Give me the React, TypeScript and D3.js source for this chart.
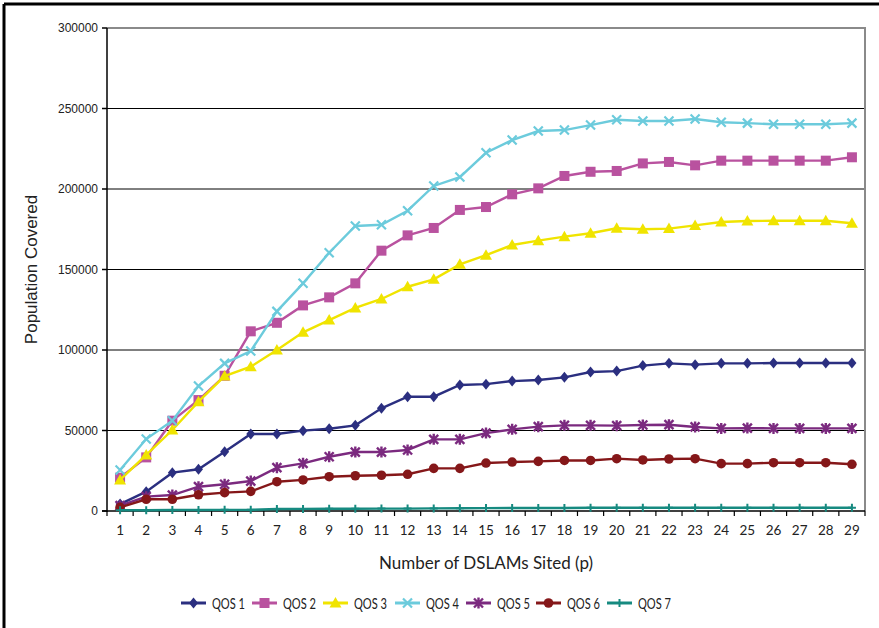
import React from "react";
import * as d3 from "d3";

const categories = Array.from({ length: 29 }, (_, i) => String(i + 1));
const yTicks = [0, 50000, 100000, 150000, 200000, 250000, 300000];

const qos1 = [4300, 12000, 23800, 25900, 36800, 47800, 47800, 49900, 51100, 53200, 63800, 71000, 71000, 78300, 78800, 80700, 81400, 83000, 86300, 86900, 90300, 91700, 90900, 91700, 91700, 91900, 91900, 91900, 91900];
const qos2 = [20700, 33300, 56100, 68900, 84000, 111600, 116900, 127700, 132700, 141400, 161700, 171200, 175800, 187000, 188800, 196700, 200400, 208100, 210700, 211200, 215900, 216800, 214700, 217600, 217600, 217600, 217600, 217600, 219700];
const qos3 = [19300, 34800, 50300, 67900, 83800, 89600, 100000, 111000, 118600, 126100, 131700, 139300, 143900, 153200, 158900, 165200, 167900, 170400, 172500, 175600, 175000, 175400, 177400, 179500, 180100, 180300, 180300, 180300, 178700];
const qos4 = [25500, 44700, 56100, 77600, 91700, 99400, 124000, 141400, 160400, 177000, 177800, 186500, 201900, 207400, 222500, 230400, 236000, 236600, 239700, 243000, 242200, 242200, 243500, 241500, 240900, 240200, 240200, 240200, 240900];
const qos5 = [3300, 8900, 9900, 15100, 16600, 18600, 26900, 29600, 33700, 36600, 36600, 37900, 44500, 44500, 48400, 50700, 52400, 53200, 53200, 53000, 53400, 53600, 52200, 51300, 51500, 51300, 51300, 51300, 51300];
const qos6 = [2300, 7300, 7300, 10100, 11400, 12200, 18200, 19300, 21300, 21900, 22200, 22800, 26500, 26500, 29800, 30400, 30800, 31400, 31400, 32500, 31700, 32300, 32500, 29400, 29400, 30000, 30000, 30000, 29000];
const qos7 = [500, 500, 600, 600, 700, 700, 1200, 1300, 1400, 1400, 1500, 1500, 1600, 1700, 1800, 1900, 1900, 1900, 2000, 2000, 2000, 2000, 2000, 2000, 2000, 2000, 2000, 2000, 2000];

const seriesNames = ["QOS 1", "QOS 2", "QOS 3", "QOS 4", "QOS 5", "QOS 6", "QOS 7"];
const seriesValues = [qos1, qos2, qos3, qos4, qos5, qos6, qos7];
const seriesColors = ["#2b2f80", "#b9529f", "#f0e400", "#6ccbdc", "#7b2a7f", "#851719", "#168a80"];
const seriesMarkers = ["diamond", "square", "triangle", "x", "star", "circle", "plus"];

const W = 879;
const H = 628;
const M = { left: 107, right: 865, top: 28, bottom: 511 };

function Marker({ type, x, y, color }: { type: string; x: number; y: number; color: string }) {
  switch (type) {
    case "diamond":
      return <path d={`M${x},${y - 5.5}L${x + 4.5},${y}L${x},${y + 5.5}L${x - 4.5},${y}Z`} fill={color} />;
    case "square":
      return <rect x={x - 5} y={y - 5} width={10} height={10} fill={color} />;
    case "triangle":
      return <path d={`M${x},${y - 6}L${x + 6},${y + 4.5}L${x - 6},${y + 4.5}Z`} fill={color} />;
    case "x":
      return (
        <path d={`M${x - 4.5},${y - 4.5}L${x + 4.5},${y + 4.5}M${x + 4.5},${y - 4.5}L${x - 4.5},${y + 4.5}`} stroke={color} strokeWidth={2.2} fill="none" />
      );
    case "star":
      return (
        <path
          d={`M${x - 4.5},${y - 4.5}L${x + 4.5},${y + 4.5}M${x + 4.5},${y - 4.5}L${x - 4.5},${y + 4.5}M${x},${y - 5.5}L${x},${y + 5.5}`}
          stroke={color}
          strokeWidth={2.4}
          fill="none"
        />
      );
    case "circle":
      return <circle cx={x} cy={y} r={4.8} fill={color} />;
    case "plus":
      return <path d={`M${x - 4},${y}L${x + 4},${y}M${x},${y - 4}L${x},${y + 4}`} stroke={color} strokeWidth={2} fill="none" />;
    default:
      return null;
  }
}

export default function App() {
  const x = d3.scaleBand<string>().domain(categories).range([M.left, M.right]);
  const y = d3.scaleLinear().domain([0, 300000]).range([M.bottom, M.top]);
  const cx = (c: string) => (x(c) as number) + x.bandwidth() / 2;
  const line = d3
    .line<number>()
    .x((_, i) => cx(categories[i]))
    .y((d) => y(d));

  const tickFont = "'Liberation Sans', Arial, sans-serif";
  const narrowFont = "Lato, 'Open Sans', sans-serif";

  const legendX = [181, 252, 323, 395, 466, 536, 607];
  const legendY = 603;

  return (
    <svg width={W} height={H} style={{ position: "absolute", left: 0, top: 0, background: "#fff" }}>
      <rect x={0} y={0} width={W} height={H} fill="#fff" />
      {/* outer frame lines (top and left) */}
      <line x1={4} y1={4} x2={W} y2={4} stroke="#000" strokeWidth={3} />
      <line x1={4} y1={4} x2={4} y2={H} stroke="#000" strokeWidth={3} />

      {/* gridlines */}
      {yTicks.map((t) =>
        t === 0 || t === 300000 ? null : (
          <line key={t} x1={M.left} x2={M.right} y1={y(t)} y2={y(t)} stroke="#000" strokeWidth={1} />
        )
      )}
      {/* plot frame top / right (gray) */}
      <line x1={M.left} x2={M.right + 1} y1={y(300000)} y2={y(300000)} stroke="#8a8a8a" strokeWidth={2} />
      <line x1={M.right} x2={M.right} y1={y(300000)} y2={M.bottom} stroke="#8a8a8a" strokeWidth={2} />

      {/* y axis */}
      <line x1={M.left} x2={M.left} y1={M.top} y2={M.bottom + 1} stroke="#000" strokeWidth={1.5} />
      {yTicks.map((t) => (
        <g key={"yt" + t}>
          <line x1={M.left - 5} x2={M.left} y1={y(t)} y2={y(t)} stroke="#000" strokeWidth={1.5} />
          <text x={M.left - 9} y={y(t)} dy="0.35em" textAnchor="end" fontSize={12} fontFamily={tickFont} fill="#222">
            {t}
          </text>
        </g>
      ))}

      {/* x axis */}
      <line x1={M.left - 5} x2={M.right} y1={M.bottom} y2={M.bottom} stroke="#000" strokeWidth={1.5} />
      {categories.map((c) => (
        <line key={"xt" + c} x1={x(c) as number} x2={x(c) as number} y1={M.bottom} y2={M.bottom + 5} stroke="#000" strokeWidth={1.2} />
      ))}
      <line x1={M.right} x2={M.right} y1={M.bottom} y2={M.bottom + 5} stroke="#000" strokeWidth={1.2} />
      {categories.map((c) => (
        <text key={"xl" + c} x={cx(c)} y={535} textAnchor="middle" fontSize={13.5} fontFamily={narrowFont} fill="#222">
          {c}
        </text>
      ))}

      {/* axis titles */}
      <text
        transform={`translate(37,${(M.top + M.bottom) / 2}) rotate(-90)`}
        textAnchor="middle"
        fontSize={17}
        fontFamily={tickFont}
        fill="#222"
      >
        Population Covered
      </text>
      <text x={486} y={569} textAnchor="middle" fontSize={17} fontFamily={narrowFont} fill="#222">
        Number of DSLAMs Sited (p)
      </text>

      {/* series */}
      {seriesValues.map((vals, s) => (
        <g key={seriesNames[s]}>
          <path d={line(vals) || ""} fill="none" stroke={seriesColors[s]} strokeWidth={2.4} />
          {vals.map((v, i) => (
            <Marker key={i} type={seriesMarkers[s]} x={cx(categories[i])} y={y(v)} color={seriesColors[s]} />
          ))}
        </g>
      ))}

      {/* legend */}
      {seriesNames.map((n, s) => (
        <g key={"lg" + n}>
          <line x1={legendX[s]} x2={legendX[s] + 25} y1={legendY} y2={legendY} stroke={seriesColors[s]} strokeWidth={3} />
          <Marker type={seriesMarkers[s]} x={legendX[s] + 12.5} y={legendY} color={seriesColors[s]} />
          <text
            x={legendX[s] + 31}
            y={legendY}
            dy="0.36em"
            fontSize={16}
            fontFamily={narrowFont}
            fill="#222"
            textLength={33}
            lengthAdjust="spacingAndGlyphs"
          >
            {n}
          </text>
        </g>
      ))}
    </svg>
  );
}
